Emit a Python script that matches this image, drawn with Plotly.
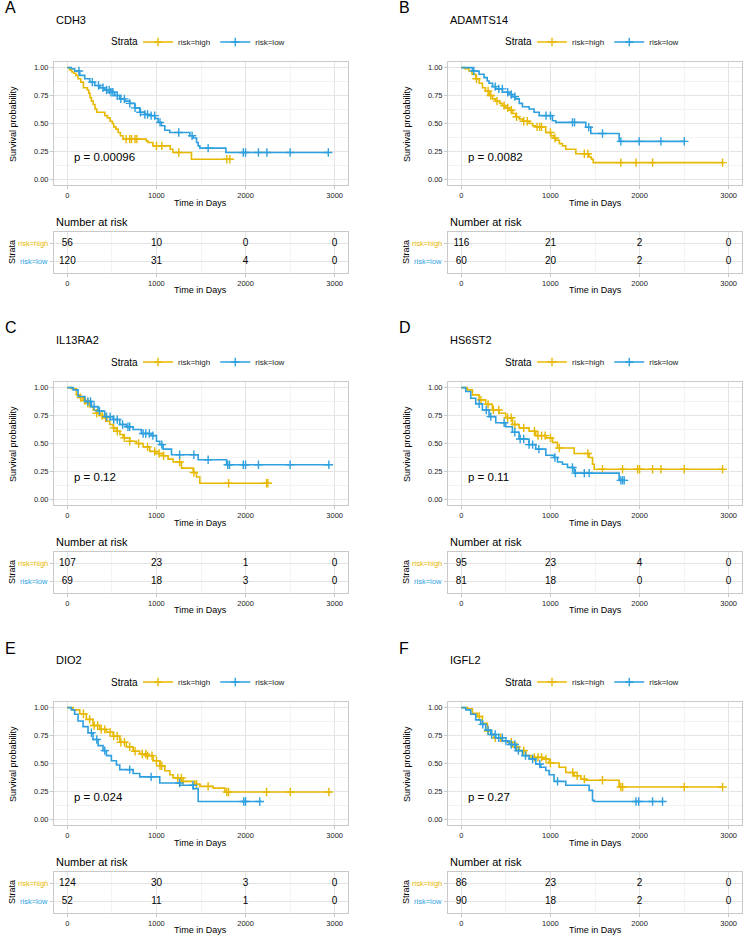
import bisect
import plotly.graph_objects as go

# ---------------- data ----------------
genes = ["CDH3", "ADAMTS14", "IL13RA2", "HS6ST2", "DIO2", "IGFL2"]
letters = ["A", "B", "C", "D", "E", "F"]
pvals = ["p = 0.00096", "p = 0.0082", "p = 0.12", "p = 0.11", "p = 0.024", "p = 0.27"]
strata = ["risk=high", "risk=low"]
risk_times = [0, 1000, 2000, 3000]

# Panel A (CDH3)
A_high_t = [0, 25, 50, 70, 95, 120, 150, 180, 225, 240, 255, 270, 290, 310, 330, 420, 450, 480, 505, 520, 545, 570, 595, 625, 885, 905, 960, 1155, 1185, 1393, 1824]
A_high_s = [1.0, 0.98, 0.96, 0.95, 0.93, 0.90, 0.87, 0.82, 0.80, 0.77, 0.73, 0.70, 0.67, 0.63, 0.60, 0.57, 0.55, 0.52, 0.50, 0.47, 0.45, 0.42, 0.39, 0.36, 0.345, 0.33, 0.30, 0.27, 0.24, 0.18, 0.18]
A_high_c = [660, 700, 720, 760, 780, 1000, 1060, 1250, 1790, 1824]
A_low_t = [0, 45, 82, 139, 195, 251, 307, 363, 419, 476, 532, 588, 644, 700, 757, 813, 869, 925, 981, 1019, 1056, 1094, 1150, 1375, 1412, 1450, 1468, 1487, 1779, 2929]
A_low_s = [1.0, 0.99, 0.97, 0.93, 0.90, 0.87, 0.84, 0.82, 0.80, 0.78, 0.75, 0.72, 0.70, 0.68, 0.64, 0.60, 0.58, 0.57, 0.545, 0.51, 0.48, 0.44, 0.42, 0.39, 0.37, 0.33, 0.30, 0.28, 0.24, 0.24]
A_low_c = [130, 280, 350, 400, 440, 470, 490, 510, 560, 600, 640, 700, 760, 820, 870, 900, 940, 980, 1040, 1250, 1400, 1580, 1975, 2000, 2145, 2240, 2500, 2929]
A_risk_high = [56, 10, 0, 0]
A_risk_low = [120, 31, 4, 0]

# Panel B (ADAMTS14)
B_high_t = [0, 40, 86, 120, 161, 200, 236, 270, 311, 350, 386, 430, 461, 500, 536, 575, 610, 650, 685, 760, 800, 835, 947, 1004, 1040, 1060, 1100, 1135, 1172, 1285, 1434, 1460, 1480, 2932]
B_high_s = [1.0, 0.99, 0.97, 0.94, 0.90, 0.86, 0.82, 0.79, 0.75, 0.72, 0.70, 0.68, 0.66, 0.64, 0.62, 0.59, 0.56, 0.54, 0.52, 0.50, 0.48, 0.47, 0.42, 0.39, 0.37, 0.35, 0.32, 0.30, 0.27, 0.23, 0.20, 0.18, 0.15, 0.15]
B_high_c = [170, 300, 330, 400, 480, 520, 560, 620, 700, 740, 850, 880, 900, 1000, 1050, 1380, 1420, 1790, 1960, 2146, 2932]
B_low_t = [0, 124, 199, 255, 290, 311, 350, 386, 461, 536, 570, 610, 650, 685, 760, 816, 873, 1022, 1060, 1397, 1453, 1771, 2502]
B_low_s = [1.0, 0.97, 0.94, 0.91, 0.88, 0.86, 0.83, 0.81, 0.78, 0.76, 0.74, 0.72, 0.68, 0.65, 0.63, 0.60, 0.57, 0.525, 0.51, 0.466, 0.41, 0.34, 0.34]
B_low_c = [140, 380, 420, 460, 520, 560, 600, 950, 1000, 1247, 1270, 1430, 1584, 1790, 1996, 2240, 2502]
B_risk_high = [116, 21, 2, 0]
B_risk_low = [60, 20, 2, 0]

# Panel C (IL13RA2)
C_high_t = [0, 45, 101, 140, 176, 215, 251, 290, 326, 365, 401, 440, 476, 515, 551, 590, 625, 700, 775, 850, 925, 1000, 1075, 1131, 1187, 1281, 1412, 1449, 1487, 2250]
C_high_s = [1.0, 0.99, 0.935, 0.91, 0.885, 0.86, 0.83, 0.80, 0.77, 0.75, 0.73, 0.70, 0.67, 0.64, 0.61, 0.58, 0.55, 0.52, 0.50, 0.47, 0.43, 0.41, 0.39, 0.36, 0.335, 0.28, 0.24, 0.20, 0.145, 0.145]
C_high_c = [150, 200, 230, 330, 390, 430, 520, 560, 640, 700, 800, 900, 980, 1030, 1080, 1260, 1420, 1810, 2236, 2250]
C_low_t = [0, 64, 120, 195, 270, 345, 419, 513, 588, 663, 738, 831, 944, 1000, 1037, 1075, 1169, 1468, 1787, 2948]
C_low_s = [1.0, 0.98, 0.92, 0.875, 0.83, 0.79, 0.74, 0.715, 0.67, 0.65, 0.625, 0.59, 0.57, 0.52, 0.49, 0.45, 0.40, 0.355, 0.31, 0.31]
C_low_c = [230, 260, 300, 360, 440, 480, 520, 560, 620, 680, 700, 850, 880, 920, 960, 1060, 1260, 1420, 1580, 1800, 1820, 1975, 2000, 2145, 2500, 2935]
C_risk_high = [107, 23, 1, 0]
C_risk_low = [69, 18, 3, 0]

# Panel D (HS6ST2)
D_high_t = [0, 67, 124, 199, 273, 348, 423, 498, 573, 648, 760, 835, 948, 1022, 1079, 1266, 1434, 1472, 1491, 2932]
D_high_s = [1.0, 0.98, 0.935, 0.89, 0.85, 0.80, 0.77, 0.73, 0.67, 0.64, 0.61, 0.57, 0.55, 0.51, 0.46, 0.41, 0.375, 0.315, 0.27, 0.27]
D_high_c = [220, 300, 360, 420, 520, 560, 600, 700, 820, 860, 900, 940, 1000, 1100, 1420, 1584, 1809, 1978, 2000, 2146, 2240, 2502, 2932]
D_low_t = [0, 49, 105, 161, 236, 311, 386, 498, 573, 648, 760, 835, 948, 1041, 1079, 1135, 1191, 1266, 1771, 1828]
D_low_s = [1.0, 0.965, 0.905, 0.855, 0.80, 0.74, 0.685, 0.65, 0.60, 0.54, 0.49, 0.45, 0.395, 0.375, 0.335, 0.315, 0.285, 0.235, 0.17, 0.17]
D_low_c = [200, 280, 330, 480, 600, 660, 700, 760, 800, 870, 1050, 1247, 1280, 1380, 1434, 1790, 1810, 1828]
D_risk_high = [95, 23, 4, 0]
D_risk_low = [81, 18, 0, 0]

# Panel E (DIO2)
E_high_t = [0, 64, 139, 213, 288, 363, 438, 513, 588, 663, 738, 813, 888, 963, 1037, 1094, 1150, 1187, 1281, 1431, 1487, 1637, 1768, 2948]
E_high_s = [1.0, 0.98, 0.945, 0.895, 0.84, 0.805, 0.78, 0.745, 0.69, 0.65, 0.61, 0.585, 0.57, 0.525, 0.48, 0.435, 0.40, 0.37, 0.34, 0.315, 0.295, 0.28, 0.245, 0.245]
E_high_c = [180, 250, 300, 340, 380, 420, 480, 520, 560, 600, 640, 700, 760, 840, 880, 900, 950, 1000, 1040, 1060, 1240, 1280, 1300, 1450, 1580, 1790, 1810, 2236, 2502, 2935]
E_low_t = [0, 45, 82, 120, 176, 232, 288, 345, 401, 438, 494, 551, 588, 738, 813, 1037, 1262, 1412, 1468, 2180]
E_low_s = [1.0, 0.98, 0.94, 0.88, 0.83, 0.775, 0.715, 0.66, 0.615, 0.57, 0.525, 0.487, 0.445, 0.41, 0.38, 0.325, 0.305, 0.275, 0.16, 0.16]
E_low_c = [270, 330, 420, 700, 940, 1260, 1410, 1980, 2000, 2160]
E_risk_high = [124, 30, 3, 0]
E_risk_low = [52, 11, 1, 0]

# Panel F (IGFL2)
F_high_t = [0, 67, 124, 180, 236, 292, 330, 367, 442, 517, 573, 648, 723, 798, 910, 985, 1097, 1172, 1266, 1341, 1397, 1771, 2932]
F_high_s = [1.0, 0.99, 0.95, 0.92, 0.86, 0.79, 0.76, 0.73, 0.70, 0.69, 0.65, 0.615, 0.57, 0.555, 0.54, 0.505, 0.466, 0.42, 0.39, 0.36, 0.35, 0.29, 0.29]
F_high_c = [200, 300, 380, 440, 560, 620, 700, 820, 860, 900, 950, 1000, 1250, 1300, 1380, 1584, 1790, 1810, 2502, 2932]
F_low_t = [0, 49, 105, 161, 217, 273, 330, 386, 461, 536, 610, 685, 760, 835, 891, 948, 985, 1041, 1172, 1434, 1472, 1490, 2258]
F_low_s = [1.0, 0.98, 0.94, 0.89, 0.85, 0.80, 0.76, 0.73, 0.70, 0.67, 0.615, 0.57, 0.54, 0.495, 0.466, 0.437, 0.40, 0.34, 0.305, 0.26, 0.17, 0.16, 0.16]
F_low_c = [240, 300, 340, 380, 420, 460, 500, 560, 600, 640, 720, 800, 880, 1080, 1960, 1990, 2146, 2258]
F_risk_high = [86, 23, 2, 0]
F_risk_low = [90, 18, 2, 0]

panels = [
    (A_high_t, A_high_s, A_high_c, A_low_t, A_low_s, A_low_c, A_risk_high, A_risk_low),
    (B_high_t, B_high_s, B_high_c, B_low_t, B_low_s, B_low_c, B_risk_high, B_risk_low),
    (C_high_t, C_high_s, C_high_c, C_low_t, C_low_s, C_low_c, C_risk_high, C_risk_low),
    (D_high_t, D_high_s, D_high_c, D_low_t, D_low_s, D_low_c, D_risk_high, D_risk_low),
    (E_high_t, E_high_s, E_high_c, E_low_t, E_low_s, E_low_c, E_risk_high, E_risk_low),
    (F_high_t, F_high_s, F_high_c, F_low_t, F_low_s, F_low_c, F_risk_high, F_risk_low),
]

# ---------------- style ----------------
W, H = 752, 944
FONT = "Liberation Sans, Arial, Helvetica, sans-serif"
COL_HIGH = "#E7B800"
COL_LOW = "#2E9FDF"
GRID = "#e4e4e4"
MINOR = "#f3f3f3"
FRAME = "#c9c9c9"
TXT = "#222222"


def px(x):
    return x / W


def py(y):
    return 1 - y / H


def step_lookup(ts, ss, t):
    i = bisect.bisect_right(ts, t) - 1
    return ss[max(i, 0)]


fig = go.Figure()
layout = dict(
    width=W, height=H, margin=dict(l=0, r=0, t=0, b=0),
    paper_bgcolor="white", plot_bgcolor="white",
    font=dict(family=FONT, color=TXT),
    annotations=[],
)

for i in range(6):
    col, row = i % 2, i // 2
    ox, oy = 394 * col, 320 * row
    k1, k2 = 2 * i + 1, 2 * i + 2
    xa1, ya1 = f"x{k1}", f"y{k1}"
    xa2, ya2 = f"x{k2}", f"y{k2}"
    lg = "legend" if i == 0 else f"legend{i + 1}"
    ht, hs, hc, lt, ls, lc, rh, rl = panels[i]

    # KM curves
    for (t, s, c, color, name) in [(ht, hs, hc, COL_HIGH, strata[0]), (lt, ls, lc, COL_LOW, strata[1])]:
        fig.add_trace(go.Scatter(x=t, y=s, mode="lines", line=dict(color=color, width=1.6, shape="hv"),
                                 xaxis=xa1, yaxis=ya1, showlegend=False, hoverinfo="skip"))
        fig.add_trace(go.Scatter(x=c, y=[step_lookup(t, s, v) for v in c], mode="markers",
                                 marker=dict(symbol="cross-thin", size=6, color=color,
                                             line=dict(color=color, width=1.4)),
                                 xaxis=xa1, yaxis=ya1, showlegend=False, hoverinfo="skip"))
        fig.add_trace(go.Scatter(x=[None], y=[None], mode="lines+markers", name=name,
                                 line=dict(color=color, width=1.6),
                                 marker=dict(symbol="cross-thin", size=6, color=color,
                                             line=dict(color=color, width=1.4)),
                                 xaxis=xa1, yaxis=ya1, legend=lg, showlegend=True))

    # risk table numbers
    fig.add_trace(go.Scatter(x=risk_times, y=[2] * len(rh), mode="text", text=[str(v) for v in rh],
                             textfont=dict(size=10, color="black", family=FONT),
                             xaxis=xa2, yaxis=ya2, showlegend=False, hoverinfo="skip", cliponaxis=False))
    fig.add_trace(go.Scatter(x=risk_times, y=[1] * len(rl), mode="text", text=[str(v) for v in rl],
                             textfont=dict(size=10, color="black", family=FONT),
                             xaxis=xa2, yaxis=ya2, showlegend=False, hoverinfo="skip", cliponaxis=False))

    xdom = [px(54 + ox), px(348 + ox)]
    common_x = dict(domain=xdom, range=[-150, 3150], tickvals=[0, 1000, 2000, 3000],
                    showgrid=True, gridcolor=GRID, gridwidth=1, zeroline=False,
                    showline=True, mirror=True, linecolor=FRAME, linewidth=1,
                    ticks="outside", ticklen=3, tickcolor=FRAME,
                    tickfont=dict(size=7.5, color=TXT),
                    minor=dict(tickvals=[500, 1500, 2500], showgrid=True, gridcolor=MINOR, ticklen=0),
                    fixedrange=True)
    layout[f"xaxis{k1}"] = dict(common_x, anchor=ya1)
    layout[f"yaxis{k1}"] = dict(domain=[py(185 + oy), py(62 + oy)], anchor=xa1, range=[-0.05, 1.05],
                                tickvals=[0, 0.25, 0.5, 0.75, 1.0],
                                ticktext=["0.00", "0.25", "0.50", "0.75", "1.00"],
                                showgrid=True, gridcolor=GRID, zeroline=False,
                                showline=True, mirror=True, linecolor=FRAME, linewidth=1,
                                ticks="outside", ticklen=3, tickcolor=FRAME,
                                tickfont=dict(size=7.5, color=TXT),
                                minor=dict(tickvals=[0.125, 0.375, 0.625, 0.875], showgrid=True,
                                           gridcolor=MINOR, ticklen=0),
                                fixedrange=True)
    layout[f"xaxis{k2}"] = dict(common_x, anchor=ya2)
    layout[f"yaxis{k2}"] = dict(domain=[py(273 + oy), py(232 + oy)], anchor=xa2, range=[0.4, 2.6],
                                tickvals=[1, 2], showticklabels=False,
                                showgrid=True, gridcolor=GRID, zeroline=False,
                                showline=True, mirror=True, linecolor=FRAME, linewidth=1,
                                ticks="outside", ticklen=3, tickcolor=FRAME, fixedrange=True)

    layout[lg] = dict(x=px(138 + ox), y=py(42 + oy), xanchor="left", yanchor="middle",
                      orientation="h", bgcolor="rgba(0,0,0,0)",
                      font=dict(size=8, color=TXT), itemwidth=30, tracegroupgap=0)

    ann = layout["annotations"]
    ann.append(dict(text="Strata", x=px(140 + ox), y=py(42 + oy), xref="paper", yref="paper",
                    xanchor="right", yanchor="middle", showarrow=False, font=dict(size=10, color="black")))
    ann.append(dict(text=letters[i], x=px(3 + ox), y=py(8 + oy), xref="paper", yref="paper",
                    xanchor="left", yanchor="middle", showarrow=False, font=dict(size=16, color="black")))
    ann.append(dict(text=genes[i], x=px(54 + ox), y=py(20 + oy), xref="paper", yref="paper",
                    xanchor="left", yanchor="middle", showarrow=False, font=dict(size=11, color="black")))
    ann.append(dict(text="Survival probability", x=px(13 + ox), y=py(124 + oy), xref="paper", yref="paper",
                    textangle=-90, xanchor="center", yanchor="middle", showarrow=False,
                    font=dict(size=9, color="black")))
    ann.append(dict(text="Time in Days", x=px(201 + ox), y=py(203 + oy), xref="paper", yref="paper",
                    xanchor="center", yanchor="middle", showarrow=False, font=dict(size=9, color="black")))
    ann.append(dict(text=pvals[i], x=50, y=0.2, xref=xa1, yref=ya1, xanchor="left", yanchor="middle",
                    showarrow=False, font=dict(size=11.5, color="black")))
    ann.append(dict(text="Number at risk", x=px(54 + ox), y=py(222 + oy), xref="paper", yref="paper",
                    xanchor="left", yanchor="middle", showarrow=False, font=dict(size=11, color="black")))
    ann.append(dict(text="Strata", x=px(12 + ox), y=py(252 + oy), xref="paper", yref="paper",
                    textangle=-90, xanchor="center", yanchor="middle", showarrow=False,
                    font=dict(size=9, color="black")))
    ann.append(dict(text=strata[0], x=px(50 + ox), y=2, xref="paper", yref=ya2, xanchor="right",
                    yanchor="middle", showarrow=False, font=dict(size=7.5, color=COL_HIGH)))
    ann.append(dict(text=strata[1], x=px(50 + ox), y=1, xref="paper", yref=ya2, xanchor="right",
                    yanchor="middle", showarrow=False, font=dict(size=7.5, color=COL_LOW)))
    ann.append(dict(text="Time in Days", x=px(201 + ox), y=py(290 + oy), xref="paper", yref="paper",
                    xanchor="center", yanchor="middle", showarrow=False, font=dict(size=9, color="black")))

fig.update_layout(**layout)
fig.write_html("out.html", config={"displayModeBar": False},
               post_script="document.body.style.margin='0px';document.body.style.overflow='hidden';")
